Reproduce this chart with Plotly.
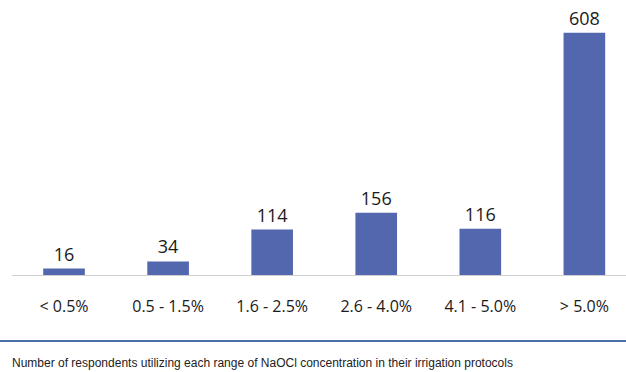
import plotly.graph_objects as go

categories = ["< 0.5%", "0.5 - 1.5%", "1.6 - 2.5%", "2.6 - 4.0%", "4.1 - 5.0%", "> 5.0%"]
respondents = [16, 34, 114, 156, 116, 608]
caption = "Number of respondents utilizing each range of NaOCl concentration in their irrigation protocols"

W, H = 626, 372
ml, mr, mt, mb = 12, 0, 0, 97
pw, ph = W - ml - mr, H - mt - mb

def px_x(x):
    return (x - ml) / pw

def px_y(y):
    return (H - mb - y) / ph

value_font = dict(family="Open Sans, Noto Sans, sans-serif", size=18, color="#1a1a1a")
tick_font = dict(family="Open Sans, Noto Sans, sans-serif", size=16, color="#1a1a1a")

fig = go.Figure(go.Bar(
    x=categories,
    y=respondents,
    marker=dict(color="#5367ae", line=dict(width=0)),
    width=0.4,
    text=[str(v) for v in respondents],
    textposition="outside",
    constraintext="none",
    textfont=value_font,
    cliponaxis=False,
))

fig.update_layout(
    width=W, height=H,
    margin=dict(l=ml, r=mr, t=mt, b=mb),
    paper_bgcolor="white", plot_bgcolor="white",
    showlegend=False,
    xaxis=dict(
        type="category",
        range=[-0.5, 5.4],
        showline=True, linecolor="#d0d0d0", linewidth=1,
        showgrid=False, ticks="",
        ticklabelstandoff=17,
        tickfont=tick_font,
    ),
    yaxis=dict(range=[0, 690], visible=False, showgrid=False, zeroline=False),
    shapes=[dict(
        type="line", xref="paper", yref="paper",
        x0=px_x(0), x1=px_x(W), y0=px_y(341), y1=px_y(341),
        line=dict(color="#4a6fa8", width=2),
    )],
    annotations=[dict(
        text=caption, xref="paper", yref="paper",
        x=px_x(10), y=px_y(363), xanchor="left", yanchor="middle",
        showarrow=False,
        font=dict(family="Liberation Sans, Arial, sans-serif", size=12, color="#222222"),
    )],
)

fig.write_html("out.html")
